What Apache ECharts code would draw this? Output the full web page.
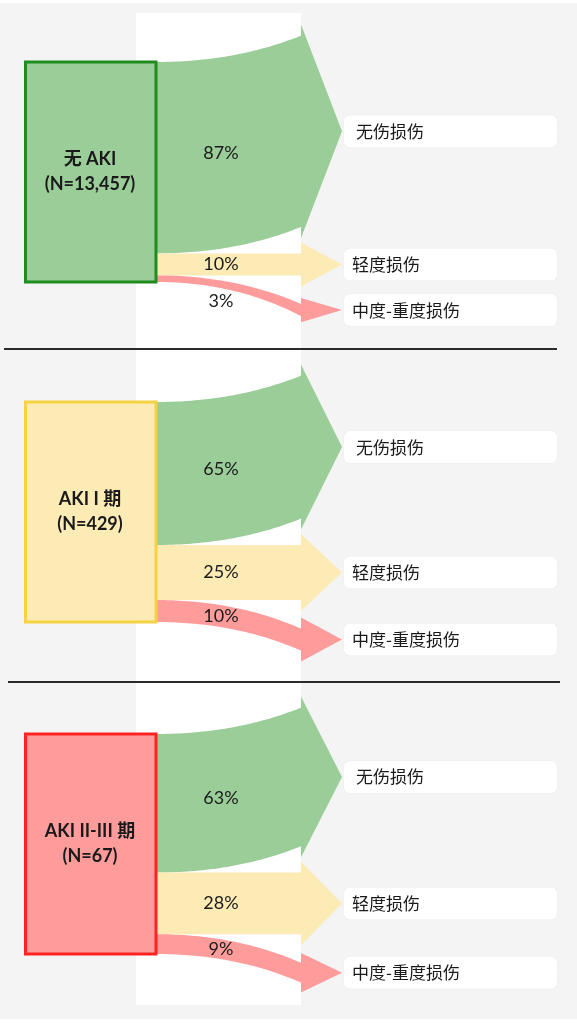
<!DOCTYPE html>
<html><head><meta charset="utf-8">
<script src="https://cdn.jsdelivr.net/npm/echarts@6/dist/echarts.min.js"></script>
<style>html,body{margin:0;padding:0;background:#fff}#c{width:577px;height:1024px}</style>
</head><body><div id="c"></div>
<script>
// ---- data ----
const groupNames = ['无 AKI', 'AKI I 期', 'AKI II-III 期'];
const groupN = ['13,457', '429', '67'];
const outcomes = ['无伤损伤', '轻度损伤', '中度-重度损伤'];
const noInjury = [87, 65, 63];
const mildInjury = [10, 25, 28];
const severeInjury = [3, 10, 9];

// ---- styling / layout ----
const flowColors = ['#9acd98', '#fcebb4', '#fe9c9c'];
const boxFill = ['#9acd98', '#fcebb4', '#fe9c9c'];
const boxStroke = ['#1f8c1f', '#f5d243', '#ff2222'];
const gridTops = [18, 358, 690];
const GRID_H = 308, GRID_L = 24, GRID_W = 318;
const BOX_R = 132, FLOW_END = 277, TIP = 318, LABEL_X = 197;
const LBL_L = 320, LBL_R = 533, LBL_H = 32;
const SHIFT = [-12, 0, 13];
const EXT = 5, MIN_W = 5.5;
const FONT = 'Lato, "Noto Sans CJK SC", sans-serif';

const chart = echarts.init(document.getElementById('c'), null, {renderer: 'canvas'});

function bez(x0, x1, y0, y1, t) {
  const cx = x0 + 0.55 * (x1 - x0);
  const x = (1 - t) * (1 - t) * x0 + 2 * t * (1 - t) * cx + t * t * x1;
  const y = (1 - t) * (1 - t) * y0 + 2 * t * (1 - t) * y0 + t * t * y1;
  return [x, y];
}

function makeRender(g) {
  return function (params, api) {
    const k = api.value(0);
    if (k === -1) {
      const p0 = api.coord([0, 0]);
      const p1 = api.coord([BOX_R, 100]);
      return {
        type: 'group',
        children: [
          {type: 'rect', shape: {x: p0[0] + 1.5, y: p0[1], width: p1[0] - p0[0] - 1.5, height: p1[1] - p0[1]},
           style: {fill: boxFill[g], stroke: boxStroke[g], lineWidth: 3}},
          {type: 'text', x: (p0[0] + p1[0]) / 2, y: (p0[1] + p1[1]) / 2,
           style: {text: groupNames[g] + '\n(N=' + groupN[g] + ')', fill: '#1a1a1a',
                   font: 'bold 18px ' + FONT, align: 'center', verticalAlign: 'middle', lineHeight: 25}}
        ]
      };
    }
    const s0 = api.value(1), s1 = api.value(2);
    const w = s1 - s0;
    const tw = Math.max(w, MIN_W);
    const sh = SHIFT[k];
    const N = 40;
    const top = [], bot = [];
    for (let i = 0; i <= N; i++) {
      const t = i / N;
      const pTop = bez(BOX_R, FLOW_END, s0, s0 + sh, t);
      const pBot = bez(BOX_R, FLOW_END, s1, s1 + sh, t);
      const grow = (tw - w) * t * t;
      top.push(api.coord(pTop));
      bot.push(api.coord([pBot[0], pBot[1] + grow]));
    }
    const t0 = s0 + sh, t1 = s0 + sh + tw, tc = (t0 + t1) / 2;
    const ext = Math.min(EXT, tw / 2);
    const pts = top.concat([
      api.coord([FLOW_END, t0 - ext]),
      api.coord([TIP, tc]),
      api.coord([FLOW_END, t1 + ext])
    ]).concat(bot.reverse());

    // percentage label position along flow
    let best = 0, bd = 1e9;
    for (let i = 0; i <= 200; i++) {
      const p = bez(BOX_R, FLOW_END, 0, 1, i / 200);
      const d = Math.abs(p[0] - LABEL_X);
      if (d < bd) { bd = d; best = i / 200; }
    }
    let ly = (s0 + s1) / 2 + sh * best * best;
    if (w < 5) ly = s1 + sh * best * best + 6.5;
    const lp = api.coord([LABEL_X, ly]);

    const tipP = api.coord([TIP, tc]);
    const la = api.coord([LBL_L, tc]);
    const lb = api.coord([LBL_R, tc]);
    return {
      type: 'group',
      children: [
        {type: 'polygon', shape: {points: pts}, style: {fill: flowColors[k]}},
        {type: 'text', x: lp[0], y: lp[1],
         style: {text: Math.round(w) + '%', fill: '#1a1a1a', font: '18px ' + FONT,
                 align: 'center', verticalAlign: 'middle'}},
        {type: 'rect', shape: {x: la[0], y: la[1] - LBL_H / 2, width: lb[0] - la[0], height: LBL_H, r: 6},
         style: {fill: '#ffffff', shadowBlur: 2, shadowColor: 'rgba(0,0,0,0.06)'}},
        {type: 'text', x: la[0] + (k === 0 ? 12 : 8), y: tipP[1],
         style: {text: outcomes[k], fill: '#1a1a1a', font: '17px "Noto Sans CJK SC", sans-serif',
                 align: 'left', verticalAlign: 'middle'}}
      ]
    };
  };
}

const grids = [], xAxes = [], yAxes = [], series = [];
for (let g = 0; g < 3; g++) {
  grids.push({left: GRID_L, top: gridTops[g], width: GRID_W, height: GRID_H});
  xAxes.push({type: 'value', gridIndex: g, min: 0, max: TIP, show: false});
  yAxes.push({type: 'value', gridIndex: g, min: -20, max: 120, inverse: true, show: false});
  const vals = [noInjury[g], mildInjury[g], severeInjury[g]];
  const data = [];
  let acc = 0;
  vals.forEach((v, k) => { data.push([k, acc, acc + v]); acc += v; });
  data.push([-1, 0, 100]);
  series.push({
    type: 'custom', xAxisIndex: g, yAxisIndex: g, clip: false,
    renderItem: makeRender(g), data: data, encode: {x: 1, y: 2}, silent: true
  });
}

chart.setOption({
  animation: false,
  backgroundColor: '#ffffff',
  graphic: [
    {type: 'rect', z: -10, shape: {x: 0, y: 3, width: 577, height: 1016}, style: {fill: '#f4f4f4'}},
    {type: 'rect', z: -9, shape: {x: 136, y: 13, width: 165, height: 992}, style: {fill: '#ffffff'}},
    {type: 'line', z: 10, shape: {x1: 4, y1: 349, x2: 557, y2: 349}, style: {stroke: '#2a2a2a', lineWidth: 2}},
    {type: 'line', z: 10, shape: {x1: 8, y1: 682, x2: 560, y2: 682}, style: {stroke: '#2a2a2a', lineWidth: 2}}
  ],
  grid: grids, xAxis: xAxes, yAxis: yAxes, series: series
});
</script>
</body></html>
